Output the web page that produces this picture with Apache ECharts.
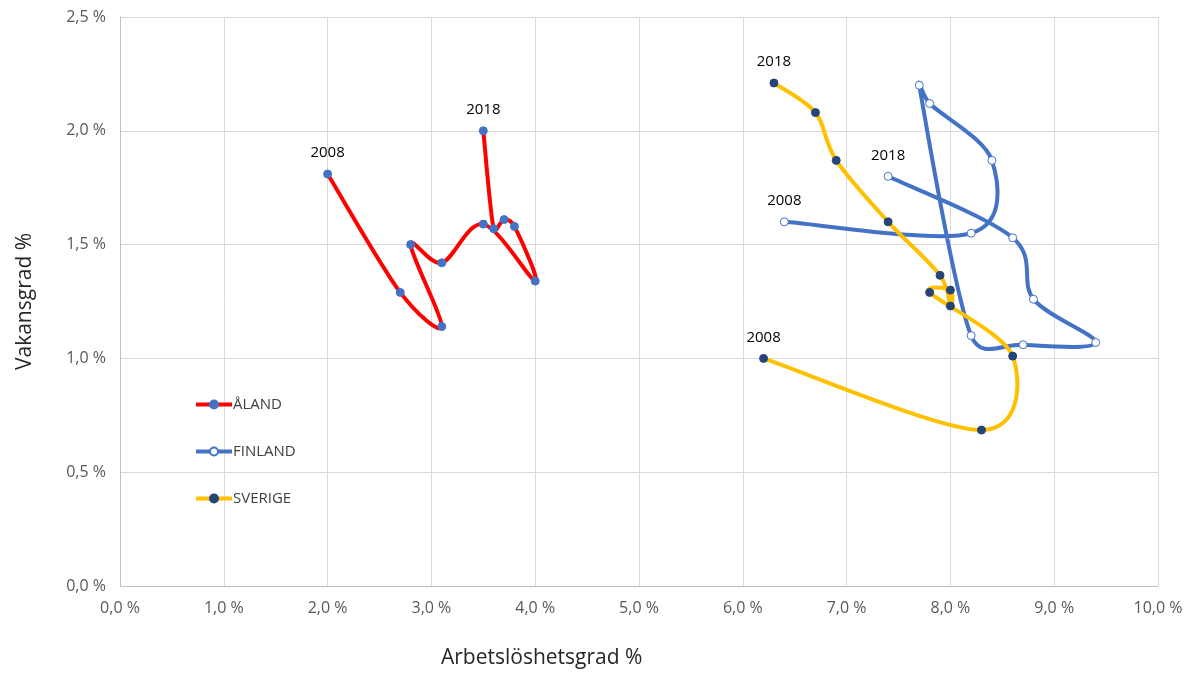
<!DOCTYPE html>
<html>
<head>
<meta charset="utf-8">
<script src="https://cdn.jsdelivr.net/npm/echarts@6/dist/echarts.min.js"></script>
<style>
  html, body { margin: 0; padding: 0; background: #ffffff; }
  #chart { width: 1201px; height: 681px; }
</style>
</head>
<body>
<div id="chart"></div>
<script>
// ---- Data (unemployment %, vacancy %) ----
const years = ['2008','2009','2010','2011','2012','2013','2014','2015','2016','2017','2018'];
const alandUnemp = [2.0, 2.7, 3.1, 2.8, 3.1, 3.5, 4.0, 3.8, 3.7, 3.6, 3.5];
const alandVac   = [1.81, 1.29, 1.14, 1.50, 1.42, 1.59, 1.34, 1.58, 1.61, 1.57, 2.00];
const finlandUnemp = [6.4, 8.2, 8.4, 7.8, 7.7, 8.2, 8.7, 9.4, 8.8, 8.6, 7.4];
const finlandVac   = [1.60, 1.55, 1.87, 2.12, 2.20, 1.10, 1.06, 1.07, 1.26, 1.53, 1.80];
const swedenUnemp = [6.2, 8.3, 8.6, 7.8, 8.0, 8.0, 7.9, 7.4, 6.9, 6.7, 6.3];
const swedenVac   = [1.00, 0.685, 1.01, 1.29, 1.30, 1.23, 1.365, 1.60, 1.87, 2.08, 2.21];
const seriesNames = ['ÅLAND', 'FINLAND', 'SVERIGE'];
const xTitle = 'Arbetslöshetsgrad %';
const yTitle = 'Vakansgrad %';

const lineColors = ['#FF0000', '#4472C4', '#FFC000'];
const markerFill = ['#4472C4', '#FFFFFF', '#264478'];
const markerBorder = ['#4472C4', '#4472C4', '#264478'];

function buildData(xs, ys) {
  return xs.map((x, i) => {
    const item = { value: [x, ys[i]], name: years[i] };
    if (i === 0 || i === xs.length - 1) {
      item.label = { show: true, formatter: years[i], position: 'top', distance: 9,
        color: '#000', fontSize: 15, fontFamily: 'Open Sans' };
    }
    return item;
  });
}

const dist = (a, b) => Math.hypot(a[0] - b[0], a[1] - b[1]);

// Smoothed curve (spreadsheet-style Bezier smoothing), positioned via the axes' coord system
function curveSeries(id, xs, ys, color) {
  return {
    type: 'custom', name: id, silent: true,
    data: xs.map((x, i) => [x, ys[i]]),
    encode: { x: 0, y: 1 },
    renderItem: (params, api) => {
      if (params.dataIndex !== 0) return null;
      const pts = xs.map((x, i) => api.coord([x, ys[i]]));
      let d = 'M' + pts[0][0] + ',' + pts[0][1];
      for (let i = 0; i < pts.length - 1; i++) {
        const p0 = pts[i - 1] || pts[i], p1 = pts[i], p2 = pts[i + 1], p3 = pts[i + 2] || pts[i + 1];
        const d12 = dist(p1, p2), d02 = dist(p0, p2), d13 = dist(p1, p3);
        let f1 = 1 / 6, f2 = 1 / 6;
        if (d02 > 0 && d02 / 6 >= d12 / 2) f1 = d12 / d02 / 2;
        if (d13 > 0 && d13 / 6 >= d12 / 2) f2 = d12 / d13 / 2;
        const c1 = [p1[0] + (p2[0] - p0[0]) * f1, p1[1] + (p2[1] - p0[1]) * f1];
        const c2 = [p2[0] - (p3[0] - p1[0]) * f2, p2[1] - (p3[1] - p1[1]) * f2];
        d += ' C' + c1[0] + ',' + c1[1] + ' ' + c2[0] + ',' + c2[1] + ' ' + p2[0] + ',' + p2[1];
      }
      return { type: 'path', shape: { pathData: d },
        style: { fill: null, stroke: color, lineWidth: 4, lineJoin: 'round', lineCap: 'round' } };
    }
  };
}

function markerSeries(idx, xs, ys) {
  return {
    name: seriesNames[idx], type: 'line', smooth: false,
    data: buildData(xs, ys),
    symbol: 'circle', symbolSize: 8, showAllSymbol: true,
    lineStyle: { color: lineColors[idx], width: 4, opacity: 0 },
    itemStyle: { color: markerFill[idx], borderColor: markerBorder[idx], borderWidth: 1 }
  };
}

const fmt = v => v.toFixed(1).replace('.', ',') + ' %';
const axisFont = { color: '#595959', fontSize: 16, fontFamily: 'Open Sans' };

const chart = echarts.init(document.getElementById('chart'));
chart.setOption({
  animation: false,
  backgroundColor: '#ffffff',
  grid: { left: 120, right: 43, top: 17, bottom: 95, containLabel: false },
  legend: {
    orient: 'vertical', left: 189, top: 392, itemGap: 32, itemWidth: 36, itemHeight: 10,
    textStyle: { color: '#404040', fontSize: 15, fontFamily: 'Open Sans', padding: [0,0,0,-4] },
    data: seriesNames.map((n, i) => ({ name: n, lineStyle: { color: lineColors[i], width: 4, opacity: 1 } }))
  },
  xAxis: {
    type: 'value', min: 0, max: 10, interval: 1,
    axisLine: { show: true, lineStyle: { color: '#BFBFBF' } },
    axisTick: { show: false },
    splitLine: { show: true, lineStyle: { color: '#D9D9D9' } },
    axisLabel: Object.assign({ formatter: fmt, margin: 14 }, axisFont)
  },
  yAxis: {
    type: 'value', min: 0, max: 2.5, interval: 0.5,
    axisLine: { show: true, lineStyle: { color: '#BFBFBF' } },
    axisTick: { show: false },
    splitLine: { show: true, lineStyle: { color: '#D9D9D9' } },
    axisLabel: Object.assign({ formatter: fmt, margin: 14 }, axisFont),
    name: yTitle, nameLocation: 'middle', nameGap: 84,
    nameTextStyle: { color: '#262626', fontSize: 21, fontFamily: 'Open Sans' }
  },
  graphic: [{
    type: 'text', left: 441, top: 648,
    style: { text: xTitle, fill: '#262626', fontSize: 21, fontFamily: 'Open Sans' }
  }],
  series: [
    curveSeries('curve-aland', alandUnemp, alandVac, lineColors[0]),
    markerSeries(0, alandUnemp, alandVac),
    curveSeries('curve-finland', finlandUnemp, finlandVac, lineColors[1]),
    markerSeries(1, finlandUnemp, finlandVac),
    curveSeries('curve-sverige', swedenUnemp, swedenVac, lineColors[2]),
    markerSeries(2, swedenUnemp, swedenVac)
  ]
});
</script>
</body>
</html>
